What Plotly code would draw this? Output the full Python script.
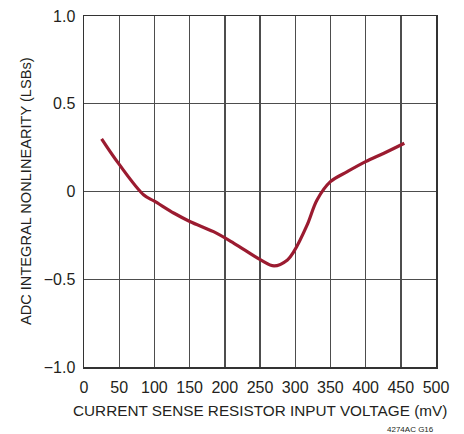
import plotly.graph_objects as go

# Data
x_mv = [25, 49, 85, 100, 128, 151, 184, 213, 251, 270, 289, 298, 317, 331, 350, 374, 400, 426, 455]
inl = [0.30, 0.16, -0.02, -0.055, -0.124, -0.172, -0.229, -0.295, -0.390, -0.424, -0.39, -0.343, -0.19, -0.048, 0.056, 0.113, 0.170, 0.218, 0.275]

x_ticks = [0, 50, 100, 150, 200, 250, 300, 350, 400, 450, 500]
x_tick_labels = [str(v) for v in x_ticks]
y_ticks = [-1.0, -0.5, 0, 0.5, 1.0]
y_tick_labels = ["\u22121.0", "\u22120.5", "0", "0.5", "1.0"]

FONT = "Liberation Sans, Arial, sans-serif"
TXT = "#231f20"

fig = go.Figure()
fig.add_trace(go.Scatter(
    x=x_mv, y=inl, mode="lines",
    line=dict(color="#9b1b30", width=3.2, shape="spline", smoothing=1.0),
    hoverinfo="skip", showlegend=False,
))

axis_common = dict(
    showgrid=True, gridcolor="#4d4d4d", gridwidth=1.4,
    showline=True, linecolor="#333333", linewidth=1.5, mirror=True,
    zeroline=False, ticks="", automargin=False, fixedrange=True,
    ticklabeloverflow="allow",
    tickfont=dict(family=FONT, size=16, color=TXT),
)

fig.update_layout(
    width=464, height=434,
    margin=dict(l=84, r=28, t=16, b=67),
    paper_bgcolor="white", plot_bgcolor="white",
    font=dict(family=FONT, size=15, color=TXT),
    hovermode=False,
    xaxis=dict(range=[0, 500], tickvals=x_ticks, ticktext=x_tick_labels,
               ticklabelstandoff=5, **axis_common),
    yaxis=dict(range=[-1.0, 1.0], tickvals=y_ticks, ticktext=y_tick_labels,
               ticklabelstandoff=4, **axis_common),
    annotations=[
        dict(text="CURRENT SENSE RESISTOR INPUT VOLTAGE (mV)",
             x=0.5, y=-0.124, xref="paper", yref="paper",
             xanchor="center", yanchor="middle", showarrow=False,
             font=dict(family=FONT, size=15.3, color=TXT)),
        dict(text="ADC INTEGRAL NONLINEARITY (LSBs)", textangle=-90,
             x=-0.166, y=0.5, xref="paper", yref="paper",
             xanchor="center", yanchor="middle", showarrow=False,
             font=dict(family=FONT, size=14.6, color=TXT)),
        dict(text="4274AC G16", x=1.0, y=-0.16, xref="paper", yref="paper",
             xanchor="right", yanchor="top", showarrow=False,
             font=dict(family=FONT, size=8, color=TXT)),
    ],
)

fig.write_html(
    "out.html",
    config={"displayModeBar": False, "staticPlot": True},
    post_script="document.body.style.margin='0';document.body.style.padding='0';document.body.style.overflow='hidden';",
)
